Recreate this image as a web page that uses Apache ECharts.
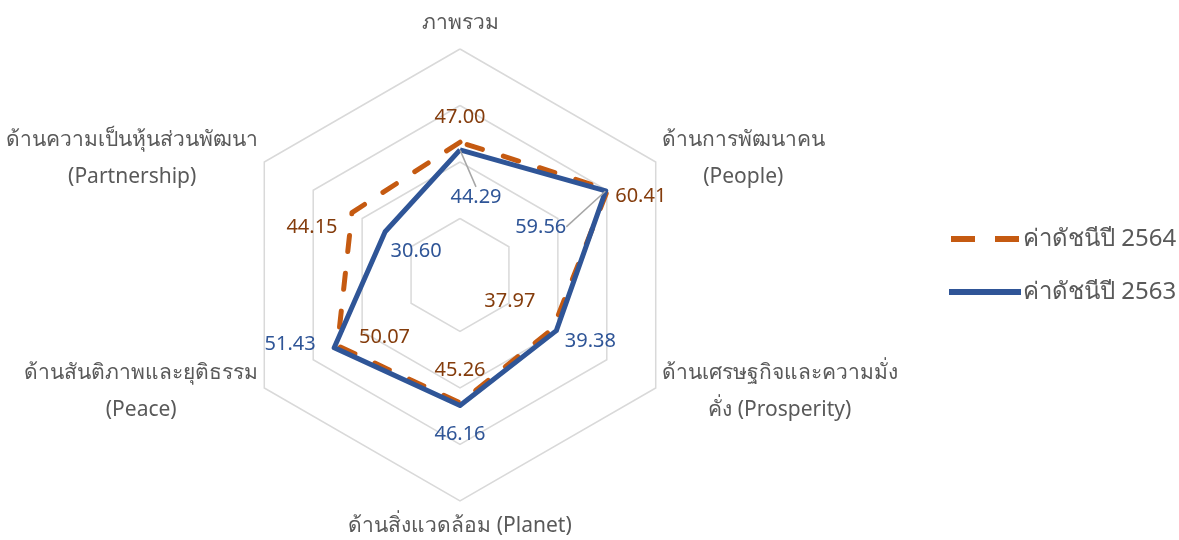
<!DOCTYPE html>
<html><head><meta charset="utf-8">
<script src="https://cdn.jsdelivr.net/npm/echarts@6/dist/echarts.min.js"></script>
<style>html,body{margin:0;padding:0;background:#fff}#c{width:1179px;height:540px}</style>
</head><body><div id="c"></div>
<script>
// ---- data ----
const categories = [
  'ภาพรวม',
  'ด้านการพัฒนาคน\n(People)',
  'ด้านเศรษฐกิจและความมั่ง\nคั่ง (Prosperity)',
  'ด้านสิ่งแวดล้อม (Planet)',
  'ด้านสันติภาพและยุติธรรม\n(Peace)',
  'ด้านความเป็นหุ้นส่วนพัฒนา\n(Partnership)'
];
const seriesNames = ['ค่าดัชนีปี 2564', 'ค่าดัชนีปี 2563'];
const values2564 = [47.00, 60.41, 37.97, 45.26, 50.07, 44.15];
const values2563 = [44.29, 59.56, 39.38, 46.16, 51.43, 30.60];
const axisMin = 0, axisMax = 80, ringCount = 4;

// ---- style ----
const FONT = '"Noto Sans", "Open Sans", sans-serif';
const C2564 = '#C55A11', C2563 = '#2F5597';
const L2564 = '#843C0C', L2563 = '#2F5597';
const CENTER = [460, 275], RADIUS = 226;
// label offsets (px) relative to each point, same order as categories
const off2564 = [[0,-25],[33,7],[-43,-27],[0,-33],[47,-8],[-40,15]];
const off2563 = [[16,47],[-65,36],[34,11],[0,29],[-44,-3],[31,20]];
const lead2563 = [true, true, false, false, false, false];

// radar draws indicators anticlockwise; reorder to show them clockwise
const order = [0,5,4,3,2,1];
const re = arr => order.map(i => arr[i]);

function labelSeries(id, vals, color, offs, leaders) {
  return {
    type: 'scatter', id: id, coordinateSystem: 'polar', symbolSize: 1, silent: true,
    itemStyle: { color: 'rgba(0,0,0,0)', opacity: 1 }, z: 5,
    data: vals.map((v, i) => ({
      value: [v, i],
      labelLine: { show: !!(leaders && leaders[i]), lineStyle: { color: '#a6a6a6', width: 1.5 } }
    })),
    label: { show: true, position: 'inside', formatter: p => p.value[0].toFixed(2),
      color: color, fontSize: 20, fontFamily: FONT },
    labelLayout: p => ({ dx: offs[p.dataIndex][0], dy: offs[p.dataIndex][1] })
  };
}

const chart = echarts.init(document.getElementById('c'), null, { renderer: 'canvas' });
chart.setOption({
  backgroundColor: '#fff',
  animation: false,
  legend: {
    orient: 'vertical', left: 944, top: 222, itemWidth: 72, itemHeight: 6, itemGap: 29,
    textStyle: { fontSize: 24, color: '#595959', fontFamily: FONT, padding: [0, 0, 0, -3] },
    data: [
      { name: seriesNames[0], icon: 'path://M0,0h24v6h-24zM44,0h24v6h-24z' },
      { name: seriesNames[1], icon: 'path://M0,0h72v6h-72z' }
    ]
  },
  radar: {
    center: CENTER, radius: RADIUS, startAngle: 90, splitNumber: ringCount, shape: 'polygon',
    indicator: re(categories).map(n => ({ name: n, min: axisMin, max: axisMax })),
    nameGap: 7,
    axisName: {
      formatter: n => n.split('\n').map(s => '{c|' + s + '}').join('\n'),
      rich: { c: { align: 'center', fontSize: 21, lineHeight: 37, color: '#595959', fontFamily: FONT } }
    },
    axisLine: { show: false }, axisTick: { show: false }, axisLabel: { show: false },
    splitArea: { show: false },
    splitLine: { lineStyle: { color: '#d9d9d9', width: 1.5 } }
  },
  polar: { center: CENTER, radius: RADIUS },
  angleAxis: { type: 'category', data: categories, startAngle: 90, clockwise: true, boundaryGap: false, show: false },
  radiusAxis: { min: axisMin, max: axisMax, show: false },
  series: [
    {
      type: 'radar', symbol: 'none', silent: true,
      data: [
        { name: seriesNames[0], value: re(values2564),
          lineStyle: { color: C2564, width: 5, type: [16, 22], cap: 'round' }, itemStyle: { color: C2564 } },
        { name: seriesNames[1], value: re(values2563),
          lineStyle: { color: C2563, width: 5, type: 'solid' }, itemStyle: { color: C2563 } }
      ]
    },
    labelSeries('l2564', values2564, L2564, off2564, null),
    labelSeries('l2563', values2563, L2563, off2563, lead2563)
  ]
});
</script></body></html>
